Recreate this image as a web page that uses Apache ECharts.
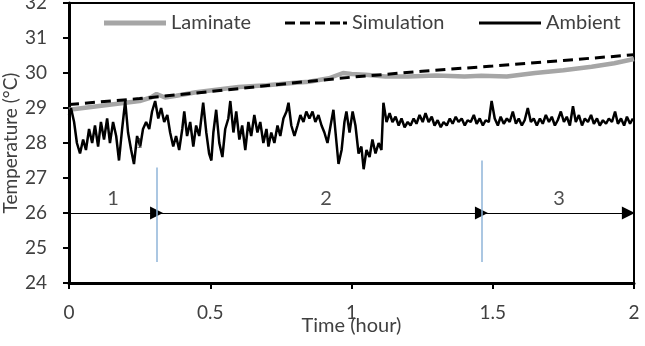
<!DOCTYPE html>
<html lang="en" style="height: 100%">
<head>
  <meta charset="utf-8">
</head>
<body style="height: 100%; margin: 0; background: #fff">
<div id="container" style="width: 645px; height: 346px"></div>

<script type="text/javascript" src="https://cdn.jsdelivr.net/npm/echarts@6/dist/echarts.min.js"></script>

<script type="text/javascript">
  // time in hours, temperature in degC
  var laminateTime = [0, 0.05, 0.1, 0.15, 0.2, 0.25, 0.29, 0.31, 0.34, 0.38, 0.45, 0.5, 0.6, 0.7, 0.8, 0.85, 0.92, 0.97, 1.0, 1.05, 1.12, 1.2, 1.3, 1.4, 1.46, 1.55, 1.65, 1.75, 1.85, 1.93, 2.0];
  var laminateTemp = [28.95, 29.0, 29.05, 29.1, 29.15, 29.2, 29.3, 29.4, 29.3, 29.35, 29.45, 29.5, 29.6, 29.65, 29.72, 29.75, 29.85, 30.0, 29.97, 29.95, 29.9, 29.9, 29.93, 29.9, 29.92, 29.9, 30.0, 30.08, 30.18, 30.28, 30.4];

  var simulationTime = [0, 0.25, 0.5, 0.75, 1.0, 1.25, 1.5, 1.75, 2.0];
  var simulationTemp = [29.1, 29.27, 29.47, 29.68, 29.88, 30.05, 30.2, 30.36, 30.52];

  var ambientTime = [0, 0.007, 0.018, 0.028, 0.039, 0.05, 0.06, 0.071, 0.082, 0.092, 0.103, 0.113, 0.124, 0.135, 0.145, 0.156, 0.167, 0.177, 0.188, 0.199, 0.209, 0.22, 0.23, 0.241, 0.252, 0.262, 0.273, 0.284, 0.294, 0.305, 0.316, 0.326, 0.337, 0.348, 0.358, 0.369, 0.379, 0.39, 0.401, 0.408, 0.418, 0.429, 0.44, 0.45, 0.461, 0.475, 0.486, 0.496, 0.504, 0.511, 0.521, 0.532, 0.543, 0.553, 0.564, 0.571, 0.582, 0.592, 0.603, 0.613, 0.624, 0.635, 0.645, 0.656, 0.667, 0.677, 0.688, 0.699, 0.706, 0.716, 0.727, 0.738, 0.748, 0.759, 0.77, 0.777, 0.787, 0.798, 0.809, 0.819, 0.83, 0.84, 0.851, 0.862, 0.872, 0.883, 0.894, 0.904, 0.915, 0.926, 0.936, 0.947, 0.954, 0.965, 0.975, 0.982, 0.993, 1.004, 1.014, 1.025, 1.035, 1.043, 1.053, 1.064, 1.074, 1.085, 1.096, 1.106, 1.113, 1.124, 1.135, 1.145, 1.156, 1.167, 1.177, 1.188, 1.199, 1.209, 1.22, 1.23, 1.241, 1.252, 1.262, 1.273, 1.284, 1.294, 1.305, 1.316, 1.326, 1.337, 1.348, 1.358, 1.369, 1.379, 1.39, 1.401, 1.411, 1.422, 1.433, 1.443, 1.454, 1.465, 1.475, 1.486, 1.496, 1.507, 1.518, 1.528, 1.539, 1.55, 1.56, 1.571, 1.582, 1.592, 1.603, 1.613, 1.624, 1.635, 1.645, 1.656, 1.667, 1.677, 1.688, 1.699, 1.709, 1.72, 1.73, 1.741, 1.752, 1.762, 1.773, 1.784, 1.794, 1.805, 1.816, 1.826, 1.837, 1.848, 1.858, 1.869, 1.879, 1.89, 1.901, 1.911, 1.922, 1.933, 1.943, 1.954, 1.965, 1.975, 1.986, 1.996];
  var ambientTemp = [28.8, 29.0, 28.6, 28.0, 27.7, 28.1, 27.8, 28.4, 28.0, 28.5, 27.9, 28.6, 28.1, 28.7, 28.0, 28.6, 28.2, 27.5, 28.4, 29.2, 28.3, 27.8, 27.4, 28.2, 27.9, 28.4, 28.6, 28.4, 28.9, 29.2, 28.7, 29.0, 28.6, 28.8, 28.3, 27.9, 28.2, 27.8, 28.4, 28.9, 28.2, 28.6, 27.9, 28.5, 28.2, 29.15, 28.3, 27.7, 27.5, 28.3, 28.95, 28.0, 27.6, 28.4, 28.7, 29.2, 28.3, 28.9, 28.1, 28.5, 27.8, 28.6, 28.2, 28.8, 28.3, 28.6, 28.0, 28.4, 27.9, 28.3, 28.0, 28.5, 28.2, 28.7, 28.9, 29.15, 28.5, 28.2, 28.5, 28.8, 28.6, 28.9, 28.7, 28.9, 28.6, 28.8, 28.5, 28.3, 28.0, 28.5, 28.95, 28.0, 27.4, 27.8, 28.6, 28.9, 28.3, 28.9, 28.5, 27.7, 27.9, 27.25, 27.8, 27.6, 28.1, 27.7, 28.0, 27.8, 29.15, 28.6, 28.85, 28.6, 28.75, 28.5, 28.7, 28.45, 28.6, 28.5, 28.7, 28.55, 28.8, 28.6, 28.85, 28.6, 28.75, 28.5, 28.65, 28.45, 28.6, 28.5, 28.7, 28.55, 28.75, 28.6, 28.7, 28.5, 28.65, 28.6, 28.8, 28.55, 28.7, 28.5, 28.65, 28.6, 29.2, 28.7, 28.5, 28.75, 28.55, 28.7, 28.6, 28.9, 28.55, 28.7, 28.5, 28.65, 29.0, 28.6, 28.7, 28.5, 28.7, 28.55, 28.8, 28.6, 28.75, 28.5, 28.65, 28.9, 28.6, 28.75, 28.5, 29.05, 28.6, 28.8, 28.5, 28.7, 28.6, 28.8, 28.55, 28.7, 28.5, 28.65, 28.55, 28.7, 28.6, 28.9, 28.55, 28.7, 28.5, 28.75, 28.55, 28.7];

  // phase boundaries (hours) drawn as arrows at 26 degC
  var phaseBounds = [0, 0.31, 1.46, 1.98];
  var phaseNames = ['1', '2', '3'];
  var phaseLabelTime = [0.156, 0.91, 1.735];
  var arrowLevel = 26;
  var labelLevel = 26.4;
  // vertical separators: [time, top, bottom]
  var separators = [[0.31, 27.3, 24.6], [1.46, 27.5, 24.6]];

  function pairs(xs, ys) {
    var out = [];
    for (var i = 0; i < xs.length; i++) out.push([xs[i], ys[i]]);
    return out;
  }

  var dom = document.getElementById('container');
  var myChart = echarts.init(dom, null, { renderer: 'canvas' });

  var txt = '#404040';
  var font = 'Lato';

  var arrowLines = [];
  for (var i = 0; i < phaseNames.length; i++) {
    arrowLines.push([{ coord: [phaseBounds[i], arrowLevel] }, { coord: [phaseBounds[i + 1], arrowLevel] }]);
  }
  var sepLines = separators.map(function (s) {
    return [{ coord: [s[0], s[1]] }, { coord: [s[0], s[2]] }];
  });
  var phaseLabelData = phaseNames.map(function (n, i) {
    return { value: [phaseLabelTime[i], labelLevel], name: n };
  });

  var legendBase = {
    top: 8,
    itemWidth: 62,
    itemGap: 5,
    textStyle: { fontFamily: font, fontSize: 20, color: txt },
    selectedMode: false
  };
  var thickIcon = 'path://M0,0H62V5H0Z';
  var solidIcon = 'path://M0,0H62V3H0Z';
  var dashIcon = 'path://M0,0H10V3H0Z M15,0H25V3H15Z M30,0H40V3H30Z M45,0H55V3H45Z M58,0H62V3H58Z';

  var option = {
    animation: false,
    grid: {
      left: 69, right: 11, top: 3, bottom: 63,
      outerBoundsMode: 'none', containLabel: false,
      show: true, borderColor: '#000', borderWidth: 2, backgroundColor: 'transparent'
    },
    legend: [
      Object.assign({}, legendBase, { left: 99, itemHeight: 5, icon: thickIcon, data: ['Laminate'] }),
      Object.assign({}, legendBase, { left: 280, itemHeight: 3, icon: dashIcon, data: ['Simulation'] }),
      Object.assign({}, legendBase, { left: 474, itemHeight: 3, icon: solidIcon, data: ['Ambient'] })
    ],
    xAxis: {
      type: 'value', min: 0, max: 2, interval: 0.5,
      name: 'Time (hour)', nameLocation: 'middle', nameGap: 33, nameMoveOverlap: false,
      nameTextStyle: { fontFamily: font, fontSize: 20, color: txt },
      axisLine: { lineStyle: { color: '#000', width: 3 } },
      axisTick: { show: true, length: 6, lineStyle: { color: '#000', width: 2 } },
      axisLabel: { fontFamily: font, fontSize: 19, color: txt, margin: 20 },
      splitLine: { show: false }
    },
    yAxis: {
      type: 'value', min: 24, max: 32, interval: 1,
      name: 'Temperature (°C)', nameLocation: 'middle', nameGap: 49, nameMoveOverlap: false,
      nameTextStyle: { fontFamily: font, fontSize: 19, color: txt },
      axisLine: { show: true, lineStyle: { color: '#000', width: 3 } },
      axisTick: { show: true, length: 6, lineStyle: { color: '#000', width: 2 } },
      axisLabel: { fontFamily: font, fontSize: 19, color: txt, margin: 22 },
      splitLine: { show: false }
    },
    series: [
      {
        name: 'Laminate', type: 'line', symbol: 'none',
        data: pairs(laminateTime, laminateTemp),
        lineStyle: { color: '#a6a6a6', width: 4.5 },
        itemStyle: { color: '#a6a6a6' }, z: 2
      },
      {
        name: 'Simulation', type: 'line', symbol: 'none',
        data: pairs(simulationTime, simulationTemp),
        lineStyle: { color: '#000', width: 3, type: [10, 6] },
        itemStyle: { color: '#000' }, z: 3
      },
      {
        name: 'Ambient', type: 'line', symbol: 'none',
        data: pairs(ambientTime, ambientTemp),
        lineStyle: { color: '#000', width: 2.5 },
        itemStyle: { color: '#000' }, z: 4
      },
      {
        type: 'line', data: [], silent: true,
        markLine: {
          silent: true, symbol: ['none', 'triangle'], symbolSize: 13,
          label: { show: false },
          lineStyle: { color: '#000', width: 1.2, type: 'solid' },
          itemStyle: { color: '#000' },
          data: arrowLines
        }
      },
      {
        type: 'line', data: [], silent: true,
        markLine: {
          silent: true, symbol: ['none', 'none'],
          label: { show: false },
          lineStyle: { color: '#8fb4d9', width: 1.5, type: 'solid' },
          data: sepLines
        }
      },
      {
        type: 'scatter', symbolSize: 0, silent: true,
        data: phaseLabelData,
        label: {
          show: true, position: 'inside', formatter: '{b}',
          fontFamily: font, fontSize: 20, color: '#222'
        }
      },
      {
        // stray serif glyph in the source figure
        type: 'scatter', symbolSize: 0, silent: true, z: 10,
        data: [{ value: [0.25, 27.95], name: '1' }],
        label: {
          show: true, position: 'inside', formatter: '{b}',
          fontFamily: 'DejaVu Serif', fontSize: 12, color: '#333'
        }
      }
    ]
  };

  myChart.setOption(option);
  window.addEventListener('resize', myChart.resize);
</script>
</body>
</html>
